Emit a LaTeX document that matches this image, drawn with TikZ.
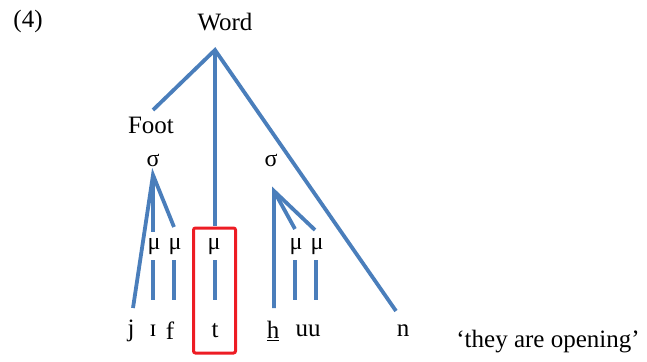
\documentclass[tikz,border=0pt]{standalone}
\usepackage{fontspec}
\setmainfont{Liberation Serif}
\definecolor{branch}{RGB}{74,126,187}
\definecolor{boxred}{RGB}{237,28,36}
\begin{document}
\begin{tikzpicture}[x=1pt,y=-1pt,
  lbl/.style={inner sep=0pt,font=\fontsize{25}{28}\selectfont},
  sml/.style={inner sep=0pt,font=\fontsize{24}{27}\selectfont},
  br/.style={draw=branch,line width=3.8pt}]
\useasboundingbox (0,0) rectangle (647,361);
% labels
\node[lbl] (num) at (28,21) {(4)};
\node[lbl] (word) at (225,22) {Word};
\node[lbl] (foot) at (151,125) {Foot};
\node[sml] (s1) at (153,160) {σ};
\node[sml] (s2) at (271,160) {σ};
\node[sml] (m1) at (154,247) {μ};
\node[sml] (m2) at (175,247) {μ};
\node[sml] (m3) at (214,247) {μ};
\node[sml] (m4) at (296,247) {μ};
\node[sml] (m5) at (317,247) {μ};
\node[lbl] (j) at (131,331) {j};
\node[lbl] (i) at (153,331) {ɪ};
\node[lbl] (f) at (170,331) {f};
\node[lbl] (t) at (215,331) {t};
\node[lbl] (h) at (273,331) {\underline{h}};
\node[lbl] (uu) at (308,331) {uu};
\node[lbl] (n) at (403,331) {n};
\node[lbl] (gloss) at (548,342) {‘they are opening’};
% branch points
\coordinate (wA) at (215,50);
\coordinate (footE) at (153,110);
\coordinate (tE) at (215,226);
\coordinate (nE) at (396,311);
\coordinate (s1A) at (153,175);
\coordinate (jE) at (133,308);
\coordinate (m1E) at (153,232);
\coordinate (m2E) at (174,227);
\coordinate (s2A) at (274,191);
\coordinate (hE) at (274,308);
\coordinate (m4E) at (295,229);
\coordinate (m5E) at (315,230);
\foreach \k/\x in {a/153,b/174,c/215,d/295,e/316}{
  \coordinate (\k T) at (\x,260);
  \coordinate (\k B) at (\x,300);
}
% branches
\draw[br] (footE) -- (wA) -- (nE);
\draw[br] (wA) -- (tE);
\draw[br] (jE) -- (s1A) -- (m2E);
\draw[br] (s1A) -- (m1E);
\draw[br] (hE) -- (s2A) -- (m5E);
\draw[br] (s2A) -- (m4E);
\foreach \k in {a,b,c,d,e}{\draw[br] (\k T) -- (\k B);}
% red box
\node[draw=boxred,line width=3pt,rounded corners=2pt,minimum width=42pt,minimum height=125pt,inner sep=0pt] (box) at (214.5,290.5) {};
\end{tikzpicture}
\end{document}
